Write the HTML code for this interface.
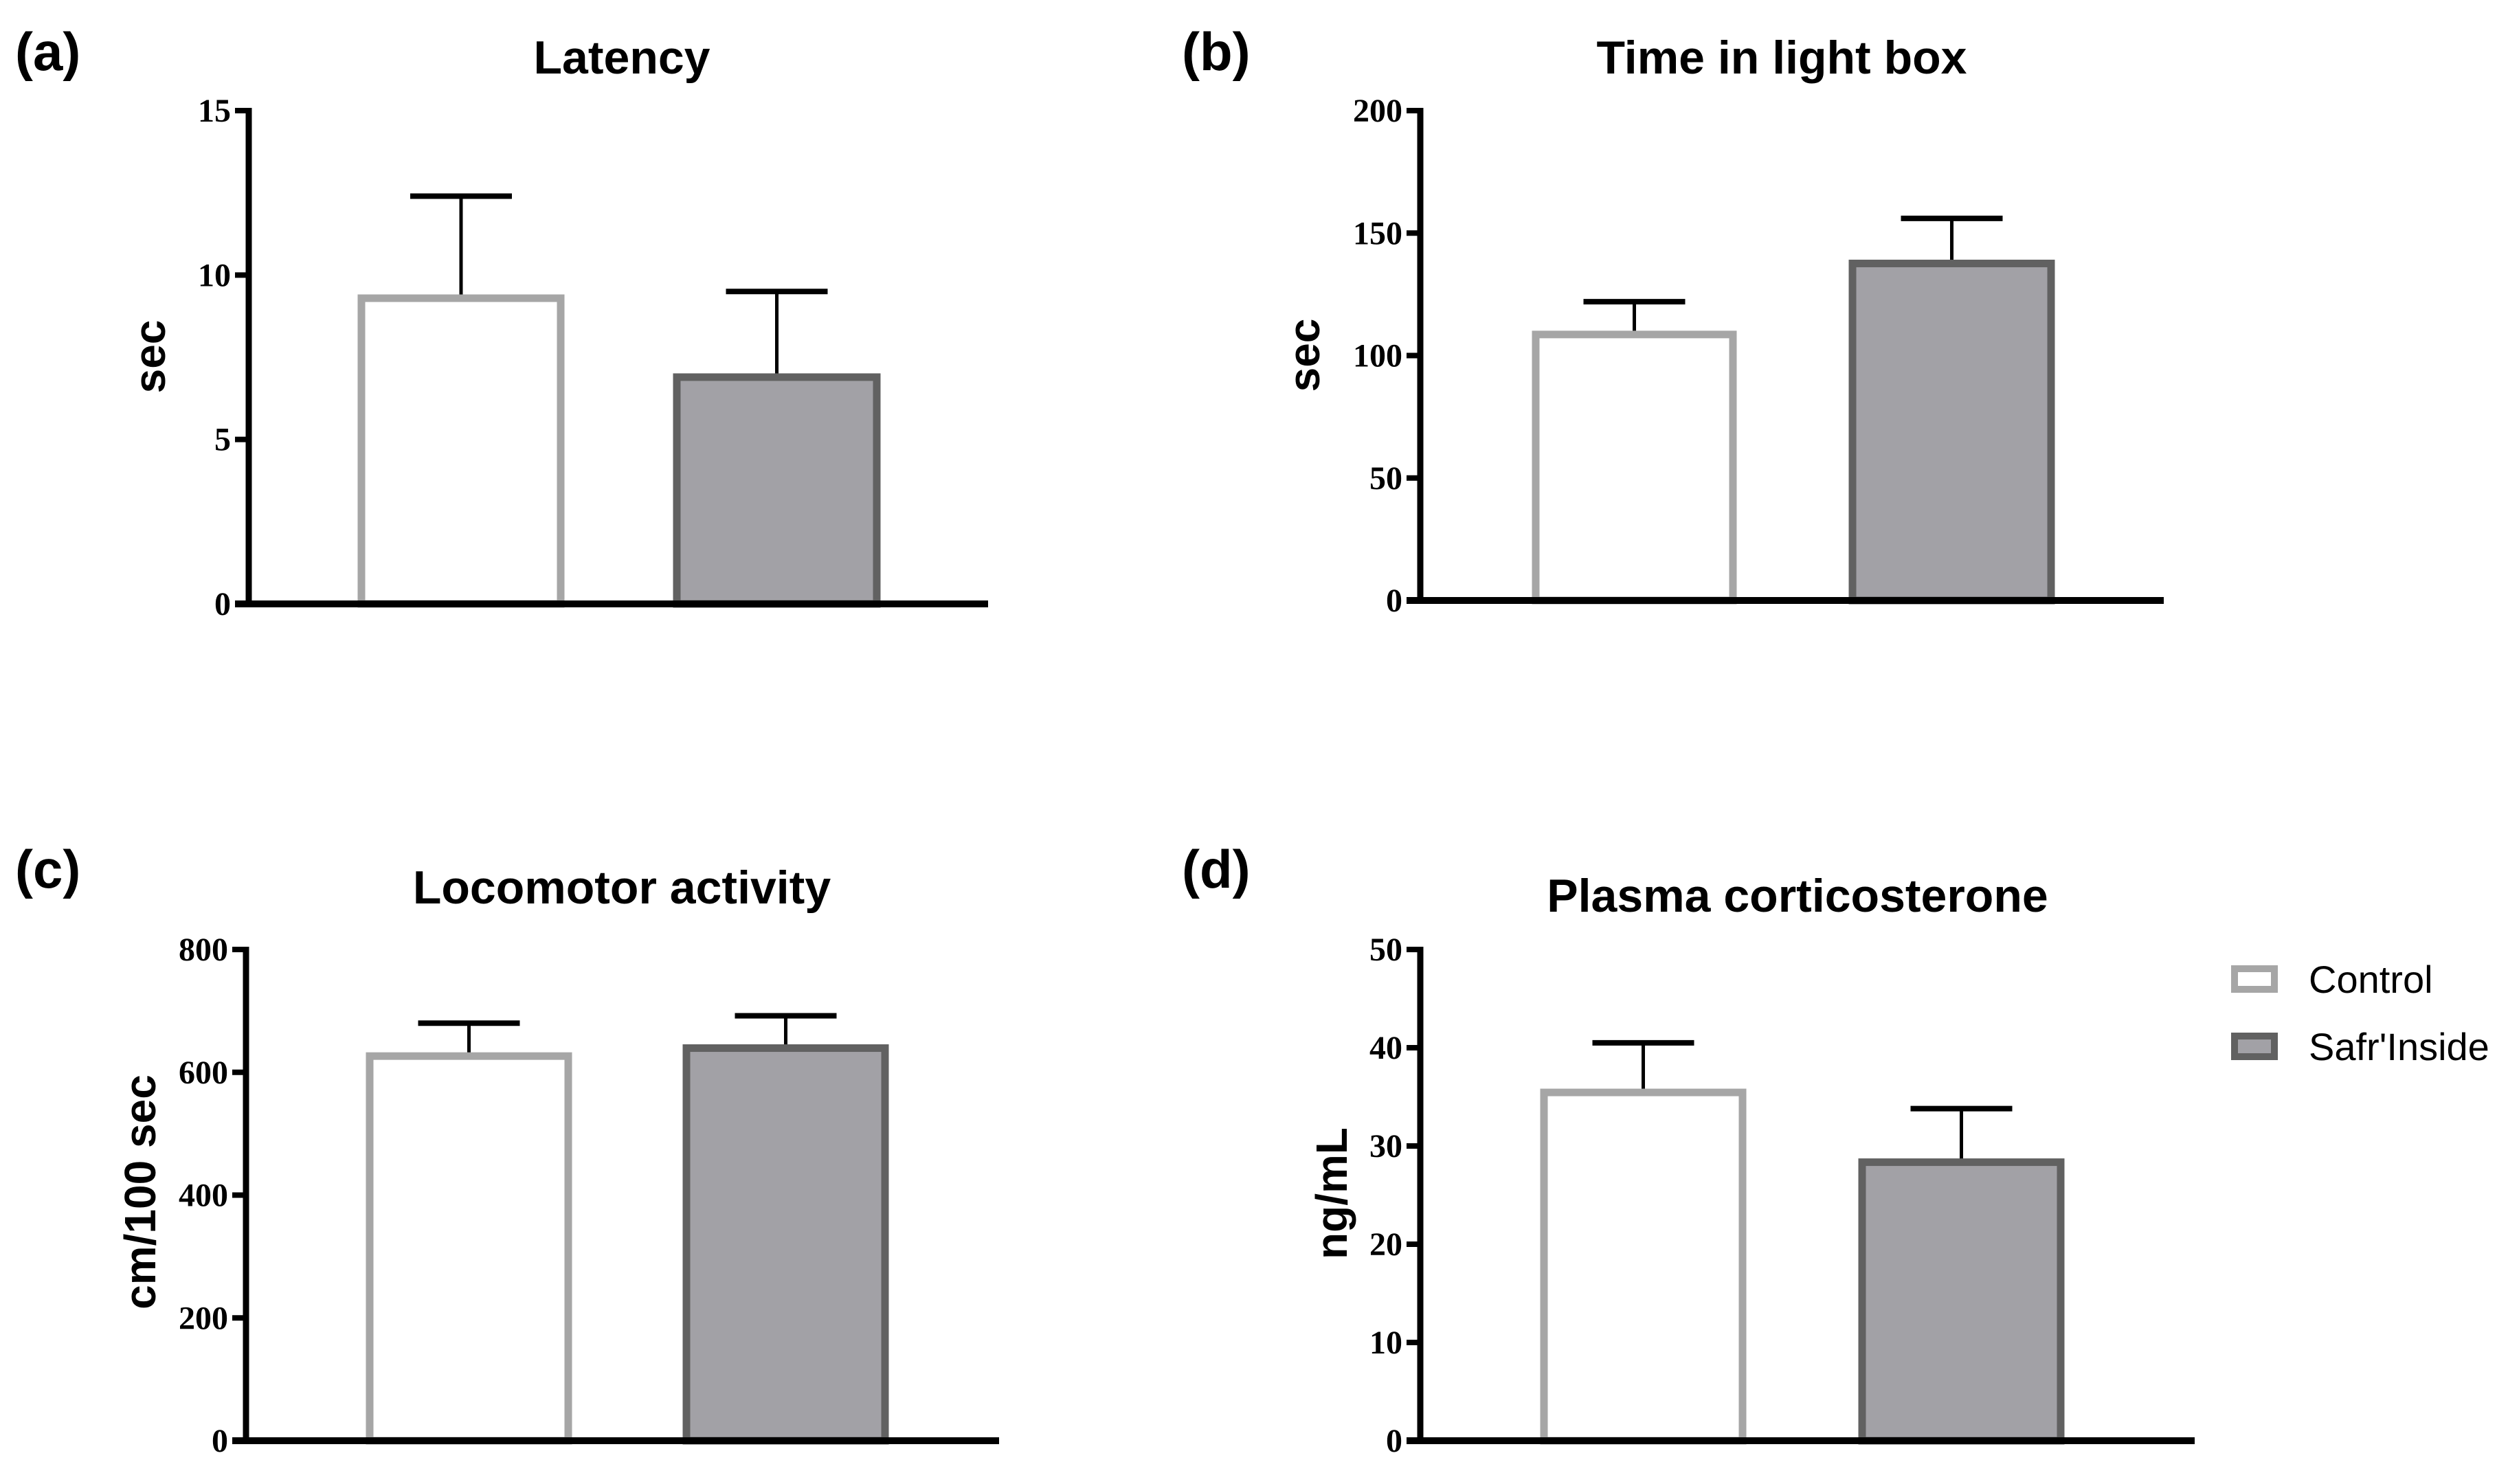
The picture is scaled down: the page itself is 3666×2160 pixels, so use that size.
<!DOCTYPE html>
<html><head><meta charset="utf-8"><style>
html,body{margin:0;padding:0;background:#fff}
svg{display:block}
.tick{font-family:"Liberation Serif",serif;font-weight:bold;font-size:48px;fill:#000}
.title{font-family:"Liberation Sans",sans-serif;font-weight:bold;font-size:68px;fill:#000}
.ylab{font-family:"Liberation Sans",sans-serif;font-weight:bold;font-size:64px;fill:#000}
.pl{font-family:"Liberation Sans",sans-serif;font-weight:bold;font-size:78px;fill:#000}
.leg{font-family:"Liberation Sans",sans-serif;font-size:56px;fill:#000}
</style></head><body>
<svg id="fig" width="3666" height="2160" viewBox="0 0 3666 2160" xmlns="http://www.w3.org/2000/svg">
<g>
<rect x="3252" y="1410" width="58" height="30" fill="#fff" stroke="#a6a6a6" stroke-width="10"/>
<text class="leg" x="3360" y="1445">Control</text>
<rect x="3252" y="1508" width="58" height="30" fill="#a2a1a6" stroke="#616161" stroke-width="10"/>
<text class="leg" x="3360" y="1543">Safr'Inside</text>
</g>
</svg>
<script>
const panelTitles = ["Latency","Time in light box","Locomotor activity","Plasma corticosterone"];
const panelLetters = ["(a)","(b)","(c)","(d)"];
const yTitles = ["sec","sec","cm/100 sec","ng/mL"];
const yMax = [15,200,800,50];
const yTicks = [[0,5,10,15],[0,50,100,150,200],[0,200,400,600,800],[0,10,20,30,40,50]];
const controlMeans = [9.4,110,632,35.8];
const safrMeans = [7.0,139,645,28.7];
const controlErrTop = [12.4,122,680,40.5];
const safrErrTop = [9.5,156,692,33.8];

const layout = [
 {ax:362,top:161,bot:879,xEnd:1438,b1:[521,821],b2:[980,1281],tx:905,ty:107,lx:22,ly:102,yx:240,yy:519},
 {ax:2067,top:161,bot:874,xEnd:3149,b1:[2230,2527],b2:[2691,2990],tx:2593,ty:107,lx:1720,ly:102,yx:1920,yy:517},
 {ax:358,top:1382,bot:2097,xEnd:1454,b1:[533,832],b2:[994,1293],tx:905,ty:1315,lx:22,ly:1292,yx:226,yy:1735},
 {ax:2067,top:1382,bot:2097,xEnd:3194,b1:[2242,2541],b2:[2705,3004],tx:2616,ty:1327,lx:1720,ly:1292,yx:1960,yy:1737}
];
const NS="http://www.w3.org/2000/svg";
const svg=document.getElementById('fig');
function mk(tag,attrs,parent){const e=document.createElementNS(NS,tag);for(const k in attrs)e.setAttribute(k,attrs[k]);(parent||svg).appendChild(e);return e;}
layout.forEach((L,i)=>{
  const g=mk('g',{});
  
  
  const y=v=>L.bot-(v/yMax[i])*(L.bot-L.top);
  const t=mk('text',{class:'title',x:L.tx,y:L.ty,'text-anchor':'middle'},g);t.textContent=panelTitles[i];
  
  
  const pl=mk('text',{class:'pl',x:L.lx,y:L.ly},g);pl.textContent=panelLetters[i];
  
  
  const yl=mk('text',{class:'ylab','text-anchor':'middle',transform:`translate(${L.yx},${L.yy}) rotate(-90)`},g);yl.textContent=yTitles[i];
  
  
  const bars=[[L.b1,controlMeans[i],controlErrTop[i],'#fff','#a6a6a6','bar-control'],[L.b2,safrMeans[i],safrErrTop[i],'#a2a1a6','#616161','bar-safrinside']];
  bars.forEach(([bx,m,e,f,s,n])=>{
    const cx=(bx[0]+bx[1])/2;
    const el=mk('line',{x1:cx,x2:cx,y1:y(m),y2:y(e),stroke:'#000','stroke-width':5},g);
    
    
    const cap=mk('line',{x1:cx-74,x2:cx+74,y1:y(e),y2:y(e),stroke:'#000','stroke-width':8},g);
    
    
    const r=mk('rect',{x:bx[0]+5,y:y(m)+5,width:bx[1]-bx[0]-10,height:L.bot-y(m)-5,fill:f,stroke:s,'stroke-width':11},g);
    
    
  });
  const ya=mk('line',{x1:L.ax,x2:L.ax,y1:L.top-4,y2:L.bot+5,stroke:'#000','stroke-width':9},g);
  
  
  const xa=mk('line',{x1:L.ax-20,x2:L.xEnd,y1:L.bot,y2:L.bot,stroke:'#000','stroke-width':10},g);
  
  
  yTicks[i].forEach(v=>{
    const tk=mk('line',{x1:L.ax-20,x2:L.ax,y1:y(v),y2:y(v),stroke:'#000','stroke-width':8},g);
    
    
    const tl=mk('text',{class:'tick',x:L.ax-26,y:y(v)+16,'text-anchor':'end'},g);tl.textContent=v;
    
    
  });
});
</script>
</body></html>
